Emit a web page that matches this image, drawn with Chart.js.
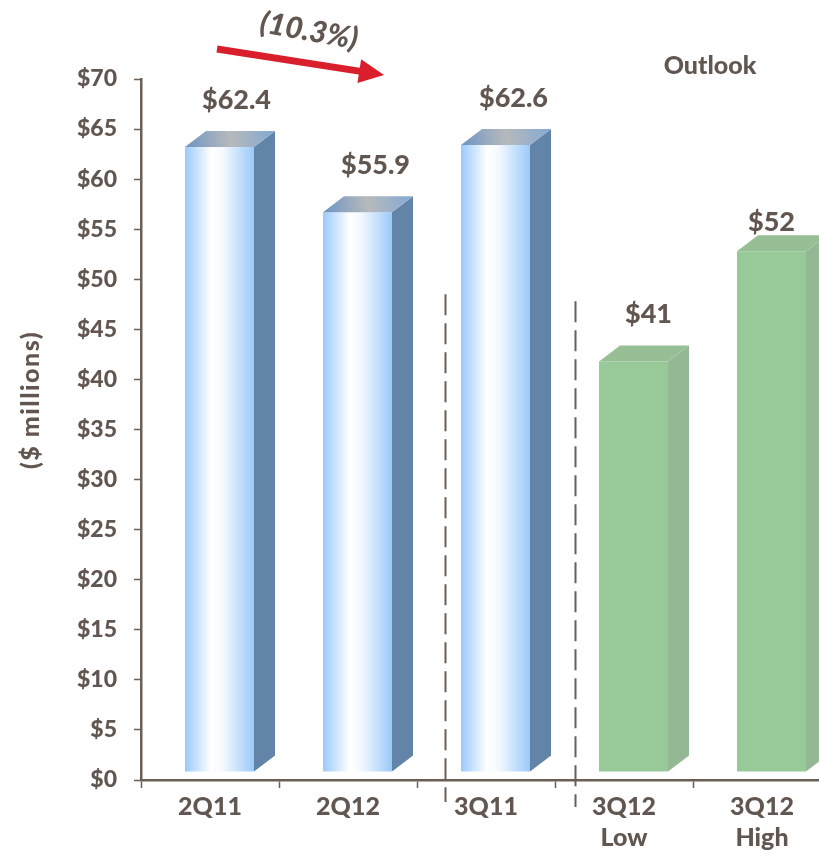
<!DOCTYPE html>
<html>
<head>
<meta charset="utf-8">
<script src="https://cdn.jsdelivr.net/npm/chart.js@4.4.1/dist/chart.umd.min.js"></script>
<style>
  html, body { margin: 0; padding: 0; background: #ffffff; overflow: hidden; }
  #wrap { position: relative; width: 840px; height: 854px; }
</style>
</head>
<body>
<div id="wrap"><canvas id="bar_chart"></canvas></div>
<script>
// chart data
const categories = [['2Q11'], ['2Q12'], ['3Q11'], ['3Q12', 'Low'], ['3Q12', 'High']];
const revenue = [62.4, 55.9, 62.6, 41, 52];
const valueLabels = ['$62.4', '$55.9', '$62.6', '$41', '$52'];
const isOutlook = [false, false, false, true, true];
const yMin = 0, yMax = 70, yStep = 5;
const changeLabel = '(10.3%)';
const outlookLabel = 'Outlook';
const yTitle = '($ millions)';

// look
const TEXT = '#615650';
const FONT = 'Lato, "DejaVu Sans", sans-serif';
const HEAVY = '900';
const FRONT = {dx: 9.5, dy: -8};   // front face shift
const DEPTH = {dx: 21, dy: -16};   // 3d depth of each box
const labelNudge = [[17, 0], [18, 0], [18, 0], [15, 0], [0, 18]];

function barWidth(xs) {
    return xs.width / categories.length * 0.5;
}

/** horizontal light blue -> white -> light blue gradient for the front faces */
function frontFill(context) {
    const chart = context.chart;
    const xs = chart.scales.x;
    if (isOutlook[context.dataIndex]) return '#98c998';
    if (!xs || !chart.chartArea) return '#b8dafa';
    const cx = xs.getPixelForValue(context.dataIndex);
    const w = barWidth(xs);
    const g = chart.ctx.createLinearGradient(cx - w / 2, 0, cx + w / 2, 0);
    g.addColorStop(0, '#9acafa');
    g.addColorStop(0.38, '#ffffff');
    g.addColorStop(0.55, '#f4f9ff');
    g.addColorStop(1, '#9acafa');
    return g;
}

const boxPlugin = {
    id: 'box3d',
    beforeDatasetsDraw(chart) {
        chart.ctx.save();
        chart.ctx.translate(FRONT.dx, FRONT.dy);
    },
    afterDatasetsDraw(chart) {
        const ctx = chart.ctx;
        ctx.restore();
        chart.getDatasetMeta(0).data.forEach((bar, i) => {
            const L = bar.x - bar.width / 2 + FRONT.dx;
            const R = L + bar.width;
            const T = bar.y + FRONT.dy;
            const B = bar.base + FRONT.dy;
            const green = isOutlook[i];
            // side face
            ctx.beginPath();
            ctx.moveTo(R, T);
            ctx.lineTo(R + DEPTH.dx, T + DEPTH.dy);
            ctx.lineTo(R + DEPTH.dx, B + DEPTH.dy);
            ctx.lineTo(R, B);
            ctx.closePath();
            ctx.fillStyle = green ? '#94b894' : '#6184a8';
            ctx.fill();
            // top face
            ctx.beginPath();
            ctx.moveTo(L, T);
            ctx.lineTo(R, T);
            ctx.lineTo(R + DEPTH.dx, T + DEPTH.dy);
            ctx.lineTo(L + DEPTH.dx, T + DEPTH.dy);
            ctx.closePath();
            if (green) {
                ctx.fillStyle = '#96bf96';
            } else {
                const g = ctx.createLinearGradient(L, T, R + DEPTH.dx, T + DEPTH.dy);
                g.addColorStop(0, '#6d95c3');
                g.addColorStop(0.5, '#b6b9bc');
                g.addColorStop(1, '#83a9d3');
                ctx.fillStyle = g;
            }
            ctx.fill();
            // value label
            ctx.fillStyle = TEXT;
            ctx.font = HEAVY + ' 27px ' + FONT;
            ctx.textAlign = 'center';
            ctx.textBaseline = 'middle';
            ctx.fillText(valueLabels[i], (L + R) / 2 + labelNudge[i][0], T - 47 + labelNudge[i][1]);
        });
    }
};

const notesPlugin = {
    id: 'notes',
    afterDraw(chart) {
        const ctx = chart.ctx;
        const xs = chart.scales.x, ys = chart.scales.y;

        // dashed separators
        ctx.save();
        ctx.strokeStyle = '#6b5e55';
        ctx.lineWidth = 2;
        ctx.setLineDash([21, 8]);
        [[1.706, 48.5, -2.2], [2.642, 47.8, -2.7]].forEach(([v, y0, y1]) => {
            const x = Math.round(xs.getPixelForValue(v)) + 0.5;
            ctx.beginPath();
            ctx.moveTo(x, ys.getPixelForValue(y0));
            ctx.lineTo(x, ys.getPixelForValue(y1));
            ctx.stroke();
        });
        ctx.restore();

        // red arrow
        const x0 = 217, y0 = 49, x1 = 384, y1 = 75;
        const a = Math.atan2(y1 - y0, x1 - x0);
        ctx.save();
        ctx.strokeStyle = '#d91f2b';
        ctx.fillStyle = '#d91f2b';
        ctx.lineWidth = 7;
        ctx.beginPath();
        ctx.moveTo(x0, y0);
        ctx.lineTo(x1 - 22 * Math.cos(a), y1 - 22 * Math.sin(a));
        ctx.stroke();
        ctx.translate(x1, y1);
        ctx.rotate(a);
        ctx.beginPath();
        ctx.moveTo(0, 0);
        ctx.lineTo(-25, -12);
        ctx.lineTo(-25, 12);
        ctx.closePath();
        ctx.fill();
        ctx.restore();

        // change label
        ctx.save();
        ctx.translate(309, 31);
        ctx.rotate(10 * Math.PI / 180);
        ctx.fillStyle = TEXT;
        ctx.font = 'italic ' + HEAVY + ' 30px ' + FONT;
        ctx.textAlign = 'center';
        ctx.textBaseline = 'middle';
        ctx.fillText(changeLabel, 0, 0);
        ctx.restore();

        // outlook label
        ctx.save();
        ctx.fillStyle = TEXT;
        ctx.font = HEAVY + ' 25px ' + FONT;
        ctx.textAlign = 'center';
        ctx.textBaseline = 'middle';
        ctx.fillText(outlookLabel, 710, 66);
        ctx.restore();

        // y axis title
        ctx.save();
        ctx.translate(31, 400);
        ctx.rotate(-Math.PI / 2);
        ctx.fillStyle = TEXT;
        ctx.font = HEAVY + ' 25px ' + FONT;
        ctx.letterSpacing = '1.5px';
        ctx.textAlign = 'center';
        ctx.textBaseline = 'middle';
        ctx.fillText(yTitle, 0, 0);
        ctx.restore();
    }
};

const chart = new Chart(document.getElementById('bar_chart'), {
    type: 'bar',
    data: {
        labels: categories,
        datasets: [{
            data: revenue,
            backgroundColor: frontFill,
            borderWidth: 0,
            categoryPercentage: 1,
            barPercentage: 0.5
        }]
    },
    options: {
        responsive: true,
        maintainAspectRatio: false,
        animation: false,
        layout: {padding: {top: 79, right: 9, bottom: 0, left: 0}},
        plugins: {
            legend: {display: false},
            tooltip: {enabled: false}
        },
        scales: {
            x: {
                afterFit(scale) { scale.height = 74; },
                grid: {
                    offset: true,
                    drawOnChartArea: false,
                    drawTicks: true,
                    tickLength: 8,
                    tickColor: '#6b5e55',
                    tickWidth: 1.5
                },
                border: {color: '#6b5e55', width: 2.5},
                ticks: {
                    color: TEXT,
                    padding: 3,
                    maxRotation: 0,
                    font: {family: FONT, size: 25, weight: HEAVY, lineHeight: 1.25}
                }
            },
            y: {
                min: yMin,
                max: yMax,
                afterFit(scale) { scale.width = 141; },
                grid: {
                    drawOnChartArea: false,
                    drawTicks: true,
                    tickLength: 7,
                    tickColor: '#6b5e55',
                    tickWidth: 1.5
                },
                border: {color: '#6b5e55', width: 2.5},
                ticks: {
                    stepSize: yStep,
                    color: TEXT,
                    padding: 17,
                    font: {family: FONT, size: 23, weight: HEAVY},
                    callback: v => '$' + v
                }
            }
        }
    },
    plugins: [boxPlugin, notesPlugin]
});
</script>
</body>
</html>
